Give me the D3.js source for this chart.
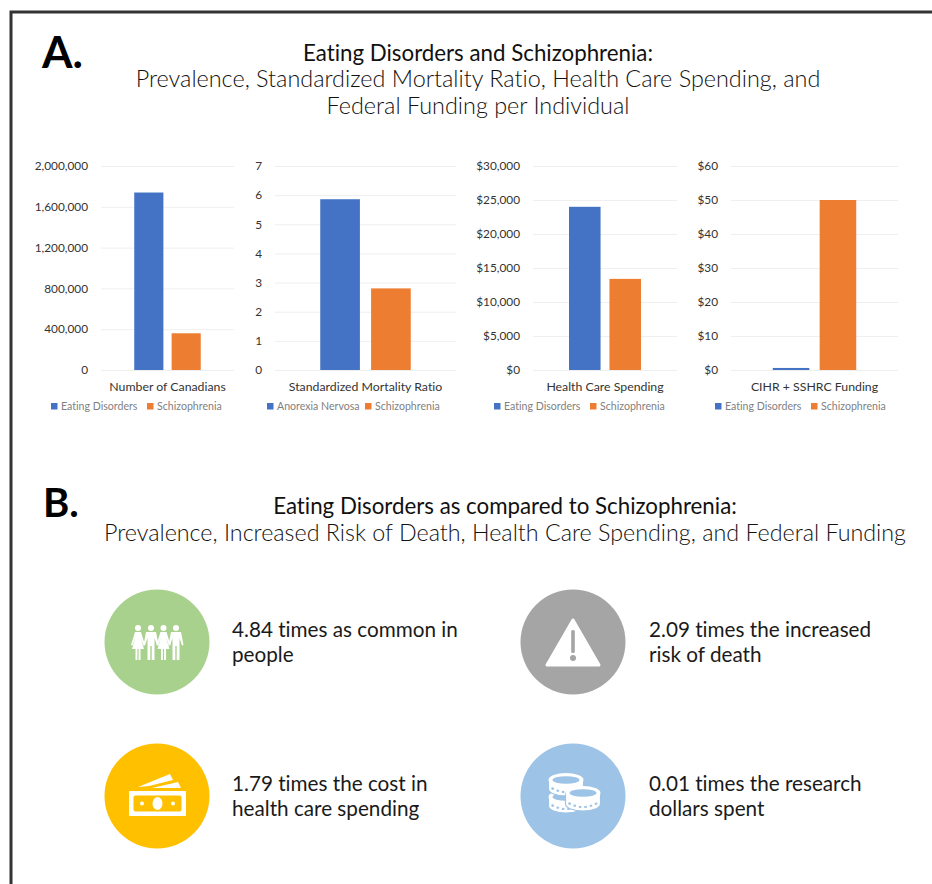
<!DOCTYPE html>
<html>
<head>
<meta charset="utf-8">
<script src="https://cdn.jsdelivr.net/npm/d3@7"></script>
<style>
  html, body { margin: 0; padding: 0; background: #fff; overflow: hidden; }
  text { font-family: Lato, "Open Sans", sans-serif; font-variant-ligatures: none; }
</style>
</head>
<body>
<div class="root"></div>
<script>
// Chart values
const categories = ["Number of Canadians", "Standardized Mortality Ratio", "Health Care Spending", "CIHR + SSHRC Funding"];
const firstSeries = ["Eating Disorders", "Anorexia Nervosa", "Eating Disorders", "Eating Disorders"];
const secondSeries = ["Schizophrenia", "Schizophrenia", "Schizophrenia", "Schizophrenia"];
const firstValues = [1740000, 5.86, 24000, 0.6];
const secondValues = [360000, 2.8, 13400, 50];
const axisMax = [2000000, 7, 30000, 60];
const tickValues = [
  [0, 400000, 800000, 1200000, 1600000, 2000000],
  [0, 1, 2, 3, 4, 5, 6, 7],
  [0, 5000, 10000, 15000, 20000, 25000, 30000],
  [0, 10, 20, 30, 40, 50, 60]
];
const tickFormats = [d3.format(",d"), d3.format("d"), d3.format("$,d"), d3.format("$,d")];

const comparisons = [
  ["4.84 times as common in", "people"],
  ["2.09 times the increased", "risk of death"],
  ["1.79 times the cost in", "health care spending"],
  ["0.01 times the research", "dollars spent"]
];

const width = 932, height = 884;
const blue = "#4472C4", orange = "#ED7D31";

var svg = d3.select(".root").append("svg")
  .attr("width", width)
  .attr("height", height)
  .style("display", "block");

// Frame, only top and left sides are visible
svg.append("path")
  .attr("d", "M11,884V12H932")
  .attr("fill", "none")
  .attr("stroke", "#333")
  .attr("stroke-width", 3);

function addText(x, y, str, size, color, anchor, weight) {
  return svg.append("text")
    .attr("x", x).attr("y", y)
    .attr("font-size", size)
    .attr("fill", color)
    .attr("text-anchor", anchor || "start")
    .attr("font-weight", weight || 400)
    .text(str);
}

// Headings
addText(42, 68, "A.", 44, "#000", "start", 700);
addText(478, 61, "Eating Disorders and Schizophrenia:", 22.3, "#111", "middle");
addText(478, 87, "Prevalence, Standardized Mortality Ratio, Health Care Spending, and", 23.4, "#111", "middle", 300);
addText(478, 114, "Federal Funding per Individual", 23.4, "#111", "middle", 300);

addText(43, 517, "B.", 40, "#000", "start", 700);
addText(505, 514, "Eating Disorders as compared to Schizophrenia:", 22.3, "#111", "middle");
addText(505, 541, "Prevalence, Increased Risk of Death, Health Care Spending, and Federal Funding", 23.3, "#111", "middle", 300);

// Panel layout
const plotLeft = [101, 275, 533, 731];
const plotRight = [234, 456, 677, 898];
const plotTop = 166, plotBottom = 370;
const legendX = [[51, 147], [267, 365], [494, 590], [715, 811]];

categories.forEach(function (category, i) {
  const names = [firstSeries[i], secondSeries[i]];
  const values = [firstValues[i], secondValues[i]];
  const plotWidth = plotRight[i] - plotLeft[i];

  const xScale = d3.scaleBand().domain([category]).range([plotLeft[i], plotRight[i]]);
  // bars fill the middle half of the plot
  const inner = d3.scaleBand().domain(d3.range(2))
    .range([plotLeft[i] + plotWidth * 0.25, plotLeft[i] + plotWidth * 0.75])
    .paddingInner(0.22);
  const yScale = d3.scaleLinear().domain([0, axisMax[i]]).range([plotBottom, plotTop]);

  // Y axis with gridlines
  const yAxis = d3.axisLeft(yScale)
    .tickValues(tickValues[i])
    .tickFormat(tickFormats[i])
    .tickSize(-plotWidth)
    .tickPadding(13);
  const gy = svg.append("g")
    .attr("transform", "translate(" + plotLeft[i] + ",0)")
    .call(yAxis);
  gy.select(".domain").remove();
  gy.selectAll("line").attr("stroke", "#efefef").attr("stroke-width", 1);
  gy.selectAll("text")
    .attr("font-size", 11.8)
    .attr("fill", "#333")
    .style("font-family", "Lato, sans-serif");

  // Bars
  svg.append("g").selectAll("rect")
    .data(values)
    .join("rect")
    .attr("x", (d, k) => inner(k))
    .attr("width", inner.bandwidth())
    .attr("y", d => yScale(d))
    .attr("height", d => plotBottom - yScale(d))
    .attr("fill", (d, k) => k === 0 ? blue : orange);

  // Category label
  const gx = svg.append("g")
    .attr("transform", "translate(0," + plotBottom + ")")
    .call(d3.axisBottom(xScale).tickSize(0).tickPadding(12));
  gx.select(".domain").remove();
  gx.selectAll("text")
    .attr("font-size", 12.3)
    .attr("fill", "#333")
    .style("font-family", "Lato, sans-serif");

  // Legend
  names.forEach(function (name, k) {
    svg.append("rect")
      .attr("x", legendX[i][k]).attr("y", 403)
      .attr("width", 6.5).attr("height", 6.5)
      .attr("fill", k === 0 ? blue : orange);
    addText(legendX[i][k] + 10, 410, name, 10.6, "#7f7f7f");
  });
});

// Section B items
const circleX = [157, 573, 157, 573];
const circleY = [642, 642, 796, 796];
const circleFill = ["#A9D18E", "#A5A5A5", "#FFC000", "#9DC3E6"];
const textX = [232, 649, 232, 649];

comparisons.forEach(function (lines, i) {
  svg.append("circle")
    .attr("cx", circleX[i]).attr("cy", circleY[i]).attr("r", 52.5)
    .attr("fill", circleFill[i]);
  addText(textX[i], circleY[i] - 5, lines[0], 20.7, "#1a1a1a");
  addText(textX[i], circleY[i] + 19.5, lines[1], 20.7, "#1a1a1a");
});

// Icons
function icon(i) {
  return svg.append("g")
    .attr("transform", "translate(" + circleX[i] + "," + circleY[i] + ")")
    .attr("fill", "#fff");
}

// people, alternating woman / man holding hands
const people = icon(0);
[-19, -6, 6.5, 19].forEach(function (x, k) {
  const p = people.append("g").attr("transform", "translate(" + x + ",0)");
  p.append("circle").attr("cx", 0).attr("cy", -14).attr("r", 3);
  if (k % 2 === 0) {
    p.append("path").attr("d", "M-3,-10H3L7,3L5.5,3.5L2.5,-5L6,7H2.5V18H0.6V7H-0.6V18H-2.5V7H-6L-2.5,-5L-5.5,3.5L-7,3Z");
  } else {
    p.append("path").attr("d", "M-5,-10H5L7.5,3L6,3.5L3.5,-4V18H0.7V4H-0.7V18H-3.5V-4L-6,3.5L-7.5,3Z");
  }
});

// warning triangle
const warn = icon(1);
warn.append("path")
  .attr("d", "M0,-22L26,23H-26Z")
  .attr("stroke", "#fff").attr("stroke-width", 3).attr("stroke-linejoin", "round");
warn.append("rect").attr("x", -1.8).attr("y", -12).attr("width", 3.6).attr("height", 23).attr("rx", 1.5).attr("fill", circleFill[1]);
warn.append("circle").attr("cx", 0).attr("cy", 16).attr("r", 3).attr("fill", circleFill[1]);

// banknotes
const cash = icon(2);
cash.append("path").attr("d", "M-19,-9L13,-22L16,-16L-8,-10Z");
cash.append("path").attr("d", "M-5,-8L21,-14L24,-8Z");
cash.append("rect").attr("x", -28).attr("y", -5).attr("width", 57).attr("height", 25);
cash.append("rect").attr("x", -23.5).attr("y", -0.5).attr("width", 48).attr("height", 16).attr("rx", 2).attr("fill", circleFill[2]);
cash.append("ellipse").attr("cx", 0.5).attr("cy", 7.5).attr("rx", 5).attr("ry", 6.5);
cash.append("circle").attr("cx", -15).attr("cy", 7.5).attr("r", 2);
cash.append("circle").attr("cx", 16).attr("cy", 7.5).attr("r", 2);

// coins: x, top of rim, rim height
const coins = icon(3);
[[-7, 1, 9], [-7, -16, 9], [10, -3, 11]].forEach(function (c) {
  const rx = 17.5, ry = 7;
  const g = coins.append("g").attr("transform", "translate(" + c[0] + "," + c[1] + ")");
  g.append("path")
    .attr("d", "M" + (-rx) + ",0V" + c[2] + "A" + rx + "," + ry + " 0 0 0 " + rx + "," + c[2] + "V0Z")
    .attr("stroke", circleFill[3]).attr("stroke-width", 1.2);
  g.append("ellipse").attr("rx", rx).attr("ry", ry);
  g.append("ellipse").attr("rx", rx - 4).attr("ry", 3.8).attr("fill", circleFill[3]);
  g.append("path")
    .attr("d", "M" + (-rx + 3) + "," + (c[2] - 1) + "Q0," + (c[2] + 7) + " " + (rx - 3) + "," + (c[2] - 1))
    .attr("fill", "none")
    .attr("stroke", circleFill[3]).attr("stroke-width", 2).attr("stroke-dasharray", "2.5 3");
});
</script>
</body>
</html>
